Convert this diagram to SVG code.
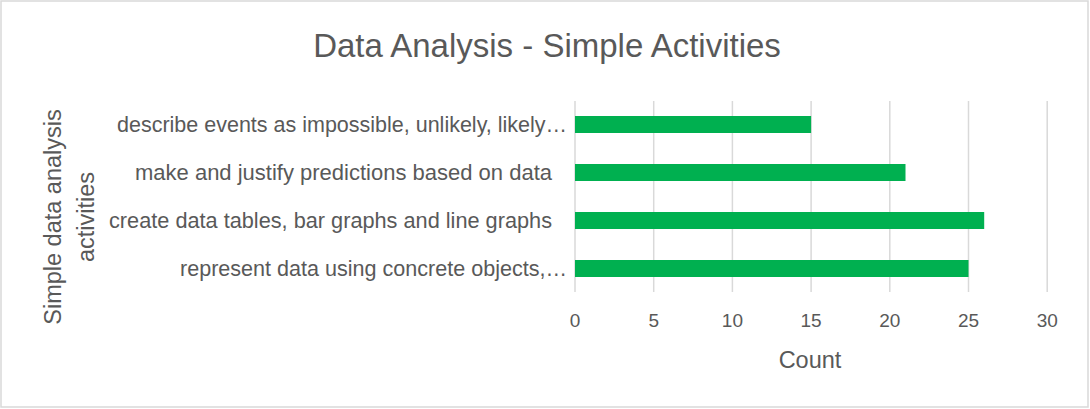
<svg xmlns="http://www.w3.org/2000/svg" width="1090" height="409" viewBox="0 0 1090 409">
<style>
text { font-family: "Liberation Sans", Arial, sans-serif; fill: #595959; }
.title { font-size: 33px; text-anchor: middle; }
.cat { font-size: 21.5px; text-anchor: end; }
.tick { font-size: 19px; text-anchor: middle; }
.axt { font-size: 23.5px; text-anchor: middle; }
.grid { stroke: #d9d9d9; stroke-width: 1.5; }
.bar { fill: #00b050; }
</style>
<rect x="1" y="1" width="1087" height="406" fill="#ffffff" stroke="#d9d9d9" stroke-width="1.5"/>
<text class="title" x="547" y="57">Data Analysis - Simple Activities</text>
<g id="gridlines">
<line class="grid" x1="575" y1="101" x2="575" y2="292"/>
<line class="grid" x1="653.7" y1="101" x2="653.7" y2="292"/>
<line class="grid" x1="732.4" y1="101" x2="732.4" y2="292"/>
<line class="grid" x1="811.1" y1="101" x2="811.1" y2="292"/>
<line class="grid" x1="889.8" y1="101" x2="889.8" y2="292"/>
<line class="grid" x1="968.5" y1="101" x2="968.5" y2="292"/>
<line class="grid" x1="1047.2" y1="101" x2="1047.2" y2="292"/>
</g>
<g id="bars">
<g id="bar-describe"><rect class="bar" x="575" y="116" width="236.1" height="17"/></g>
<g id="bar-predict"><rect class="bar" x="575" y="164" width="330.5" height="17"/></g>
<g id="bar-create"><rect class="bar" x="575" y="212" width="409.2" height="17"/></g>
<g id="bar-represent"><rect class="bar" x="575" y="260" width="393.5" height="17"/></g>
</g>
<g id="category-labels">
<text class="cat" x="567" y="132" textLength="450" lengthAdjust="spacingAndGlyphs">describe events as impossible, unlikely, likely…</text>
<text class="cat" x="552" y="180" textLength="417" lengthAdjust="spacingAndGlyphs">make and justify predictions based on data</text>
<text class="cat" x="552" y="228" textLength="443" lengthAdjust="spacingAndGlyphs">create data tables, bar graphs and line graphs</text>
<text class="cat" x="567" y="276" textLength="387" lengthAdjust="spacingAndGlyphs">represent data using concrete objects,…</text>
</g>
<g id="tick-labels">
<text class="tick" x="575" y="327">0</text>
<text class="tick" x="653.7" y="327">5</text>
<text class="tick" x="732.4" y="327">10</text>
<text class="tick" x="811.1" y="327">15</text>
<text class="tick" x="889.8" y="327">20</text>
<text class="tick" x="968.5" y="327">25</text>
<text class="tick" x="1047.2" y="327">30</text>
</g>
<text class="axt" x="810" y="368">Count</text>
<g id="y-axis-title">
<text class="axt" transform="translate(61,217) rotate(-90)">Simple data analysis</text>
<text class="axt" transform="translate(94,217) rotate(-90)">activities</text>
</g>
</svg>
